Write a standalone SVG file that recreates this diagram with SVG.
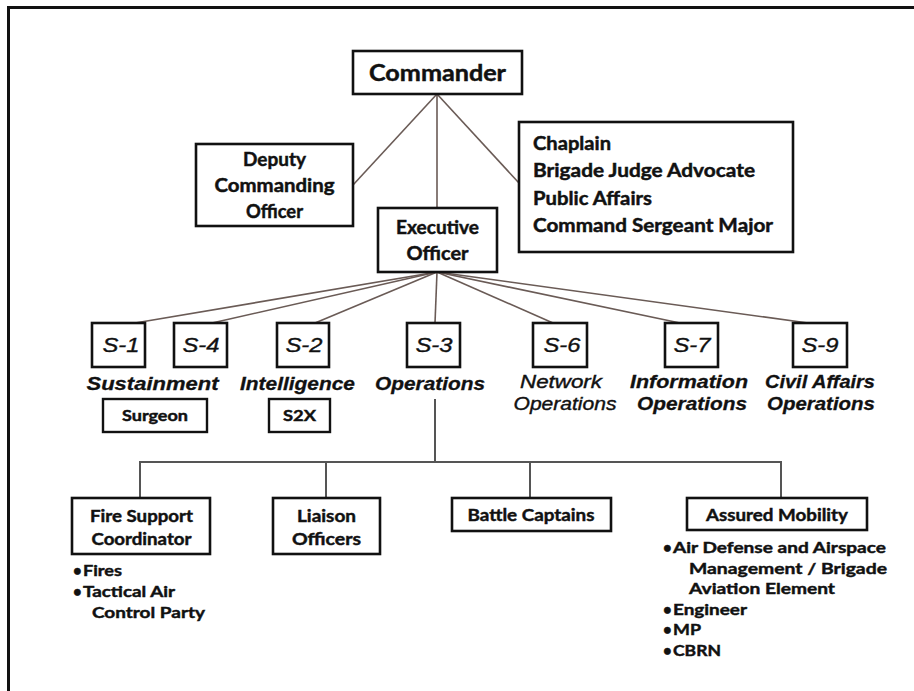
<svg xmlns="http://www.w3.org/2000/svg" width="914" height="691" viewBox="0 0 914 691">
<style>
.bx{fill:#fff;stroke:#111;stroke-width:2.6}
.sm{fill:#fff;stroke:#111;stroke-width:2.4}
.t{font-family:Lato,"Liberation Sans",sans-serif;font-weight:700;fill:#111;stroke:#111;stroke-width:0.45;text-anchor:middle}
.tl{font-family:Lato,"Liberation Sans",sans-serif;font-weight:700;fill:#111;stroke:#111;stroke-width:0.45}
.s{font-family:"Liberation Sans",Arial,sans-serif;font-style:italic;font-size:20px;fill:#111;stroke:#111;stroke-width:0.35;text-anchor:middle}
.lb{font-family:"Liberation Sans",Arial,sans-serif;font-style:italic;font-weight:700;font-size:19px;fill:#111;stroke:#111;stroke-width:0.3;text-anchor:middle}
.ln{font-family:"Liberation Sans",Arial,sans-serif;font-style:italic;font-weight:400;font-size:19px;fill:#111;stroke:#111;stroke-width:0.4;text-anchor:middle}
.c{stroke:#6a5b56;stroke-width:1.6;fill:none}
.c2{stroke:#555;stroke-width:2;fill:none}
</style>
<rect x="0" y="0" width="914" height="691" fill="#fff"/>
<path d="M8.5 691 V7.5 H914" fill="none" stroke="#111" stroke-width="3"/>
<g id="connectors">
<line class="c" x1="437" y1="94" x2="353" y2="185"/>
<line class="c" x1="437" y1="94" x2="437" y2="208"/>
<line class="c" x1="437" y1="94" x2="519" y2="183"/>
<line class="c" x1="437" y1="272" x2="135" y2="323"/>
<line class="c" x1="437" y1="272" x2="212" y2="323"/>
<line class="c" x1="437" y1="272" x2="315" y2="323"/>
<line class="c" x1="437" y1="272" x2="435" y2="323"/>
<line class="c" x1="437" y1="272" x2="553" y2="323"/>
<line class="c" x1="437" y1="272" x2="680" y2="323"/>
<line class="c" x1="437" y1="272" x2="808" y2="323"/>
<line class="c2" x1="435" y1="399" x2="435" y2="462"/>
<polyline class="c2" points="140,498 140,462 781,462 781,498"/>
<line class="c2" x1="326" y1="462" x2="326" y2="498"/>
<line class="c2" x1="530" y1="462" x2="530" y2="498"/>
</g>
<g id="commander">
<rect class="bx" x="353" y="51" width="169" height="43"/>
<text class="t" x="437.5" y="81" font-size="22" textLength="137" lengthAdjust="spacingAndGlyphs">Commander</text>
</g>
<g id="deputy">
<rect class="bx" x="196" y="144" width="157" height="82"/>
<text class="t" x="274.5" y="166" font-size="18" textLength="63" lengthAdjust="spacingAndGlyphs">Deputy</text>
<text class="t" x="274.5" y="192" font-size="18" textLength="120" lengthAdjust="spacingAndGlyphs">Commanding</text>
<text class="t" x="274.5" y="218" font-size="18" textLength="57" lengthAdjust="spacingAndGlyphs">Officer</text>
</g>
<g id="staff">
<rect class="bx" x="519" y="122" width="274" height="130"/>
<text class="tl" x="533" y="149.5" font-size="18" textLength="78" lengthAdjust="spacingAndGlyphs">Chaplain</text>
<text class="tl" x="533" y="177" font-size="18" textLength="222" lengthAdjust="spacingAndGlyphs">Brigade Judge Advocate</text>
<text class="tl" x="533" y="204.5" font-size="18" textLength="119" lengthAdjust="spacingAndGlyphs">Public Affairs</text>
<text class="tl" x="533" y="231.5" font-size="18" textLength="240" lengthAdjust="spacingAndGlyphs">Command Sergeant Major</text>
</g>
<g id="executive">
<rect class="bx" x="378" y="208" width="119" height="64"/>
<text class="t" x="437.5" y="234" font-size="18" textLength="83" lengthAdjust="spacingAndGlyphs">Executive</text>
<text class="t" x="437.5" y="259.5" font-size="18" textLength="62" lengthAdjust="spacingAndGlyphs">Officer</text>
</g>
<g id="s1">
<rect class="bx" x="92" y="323" width="53" height="44"/>
<text class="s" x="121" y="352" textLength="37" lengthAdjust="spacingAndGlyphs">S-1</text>
</g>
<g id="s4">
<rect class="bx" x="174" y="323" width="53" height="44"/>
<text class="s" x="201" y="352" textLength="37" lengthAdjust="spacingAndGlyphs">S-4</text>
</g>
<g id="s2">
<rect class="bx" x="277" y="323" width="52" height="44"/>
<text class="s" x="304" y="352" textLength="37" lengthAdjust="spacingAndGlyphs">S-2</text>
</g>
<g id="s3">
<rect class="bx" x="407" y="323" width="53" height="44"/>
<text class="s" x="434" y="352" textLength="37" lengthAdjust="spacingAndGlyphs">S-3</text>
</g>
<g id="s6">
<rect class="bx" x="533" y="323" width="54" height="44"/>
<text class="s" x="562" y="352" textLength="37" lengthAdjust="spacingAndGlyphs">S-6</text>
</g>
<g id="s7">
<rect class="bx" x="665" y="323" width="53" height="44"/>
<text class="s" x="692" y="352" textLength="37" lengthAdjust="spacingAndGlyphs">S-7</text>
</g>
<g id="s9">
<rect class="bx" x="793" y="323" width="54" height="44"/>
<text class="s" x="820" y="352" textLength="37" lengthAdjust="spacingAndGlyphs">S-9</text>
</g>
<g id="labels">
<text class="lb" x="152.5" y="390" textLength="132" lengthAdjust="spacingAndGlyphs">Sustainment</text>
<text class="lb" x="297.5" y="390" textLength="115" lengthAdjust="spacingAndGlyphs">Intelligence</text>
<text class="lb" x="430" y="390" textLength="110" lengthAdjust="spacingAndGlyphs">Operations</text>
<text class="ln" x="561" y="388" textLength="82" lengthAdjust="spacingAndGlyphs">Network</text>
<text class="ln" x="565" y="410" textLength="103" lengthAdjust="spacingAndGlyphs">Operations</text>
<text class="lb" x="689" y="388" textLength="118" lengthAdjust="spacingAndGlyphs">Information</text>
<text class="lb" x="692" y="410" textLength="110" lengthAdjust="spacingAndGlyphs">Operations</text>
<text class="lb" x="820" y="388" textLength="110" lengthAdjust="spacingAndGlyphs">Civil Affairs</text>
<text class="lb" x="821" y="410" textLength="108" lengthAdjust="spacingAndGlyphs">Operations</text>
</g>
<g id="surgeon">
<rect class="sm" x="103" y="399" width="104" height="33"/>
<text class="t" x="155" y="421" font-size="15" textLength="66" lengthAdjust="spacingAndGlyphs">Surgeon</text>
</g>
<g id="s2x">
<rect class="sm" x="269" y="399" width="61" height="33"/>
<text class="t" x="299.5" y="421" font-size="15" textLength="33" lengthAdjust="spacingAndGlyphs">S2X</text>
</g>
<g id="fire-support">
<rect class="bx" x="72" y="498" width="138" height="56"/>
<text class="t" x="141.5" y="521.5" font-size="17" textLength="103" lengthAdjust="spacingAndGlyphs">Fire Support</text>
<text class="t" x="141.5" y="545" font-size="17" textLength="100" lengthAdjust="spacingAndGlyphs">Coordinator</text>
<text class="tl" x="73" y="576" font-size="15">•</text>
<text class="tl" x="83" y="576" font-size="16" textLength="39" lengthAdjust="spacingAndGlyphs">Fires</text>
<text class="tl" x="73" y="597" font-size="15">•</text>
<text class="tl" x="83" y="597" font-size="16" textLength="92" lengthAdjust="spacingAndGlyphs">Tactical Air</text>
<text class="tl" x="92" y="618" font-size="16" textLength="113" lengthAdjust="spacingAndGlyphs">Control Party</text>
</g>
<g id="liaison">
<rect class="bx" x="273" y="498" width="107" height="56"/>
<text class="t" x="326.5" y="521.5" font-size="17" textLength="59" lengthAdjust="spacingAndGlyphs">Liaison</text>
<text class="t" x="326.5" y="545" font-size="17" textLength="69" lengthAdjust="spacingAndGlyphs">Officers</text>
</g>
<g id="battle-captains">
<rect class="bx" x="452" y="498" width="159" height="33"/>
<text class="t" x="531" y="521" font-size="17" textLength="127" lengthAdjust="spacingAndGlyphs">Battle Captains</text>
</g>
<g id="assured-mobility">
<rect class="bx" x="687" y="498" width="180" height="32"/>
<text class="t" x="777" y="521" font-size="17" textLength="142" lengthAdjust="spacingAndGlyphs">Assured Mobility</text>
<text class="tl" x="663" y="553" font-size="15">•</text>
<text class="tl" x="673" y="553" font-size="16" textLength="213" lengthAdjust="spacingAndGlyphs">Air Defense and Airspace</text>
<text class="tl" x="689" y="574" font-size="16" textLength="198" lengthAdjust="spacingAndGlyphs">Management / Brigade</text>
<text class="tl" x="689" y="594" font-size="16" textLength="146" lengthAdjust="spacingAndGlyphs">Aviation Element</text>
<text class="tl" x="663" y="615" font-size="15">•</text>
<text class="tl" x="673" y="615" font-size="16" textLength="74" lengthAdjust="spacingAndGlyphs">Engineer</text>
<text class="tl" x="663" y="635" font-size="15">•</text>
<text class="tl" x="673" y="635" font-size="16" textLength="28" lengthAdjust="spacingAndGlyphs">MP</text>
<text class="tl" x="663" y="656" font-size="15">•</text>
<text class="tl" x="673" y="656" font-size="16" textLength="48" lengthAdjust="spacingAndGlyphs">CBRN</text>
</g>
</svg>
